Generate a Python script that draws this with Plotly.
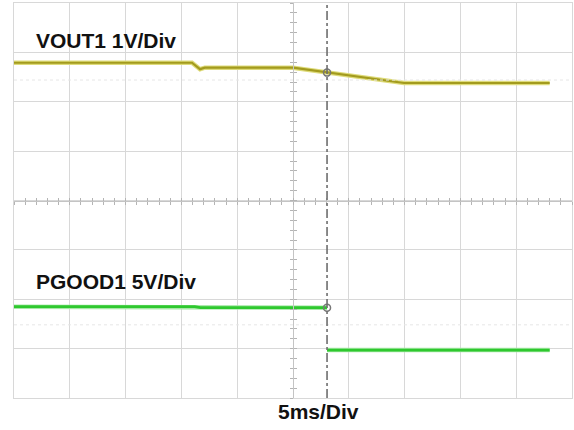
import plotly.graph_objects as go

# Time axis: 5 ms/div, 10 divisions
t_vout = [0, 15.95, 16.67, 17.1, 25.0, 34.95, 48.0]
v_vout = [4.79, 4.79, 4.66, 4.69, 4.69, 4.38, 4.38]      # VOUT1, volts (1 V/div)

t_pgood = [0, 16.2, 16.7, 28.05, None, 28.05, 48.0]
v_pgood = [4.4, 4.4, 4.3, 4.3, None, 0.0, 0.0]           # PGOOD1, volts (5 V/div)

cursor_t = 28.05
label_vout = "VOUT1 1V/Div"
label_pgood = "PGOOD1 5V/Div"
label_time = "5ms/Div"

GRID = "#d8d8d8"
FONT = "Arial, Liberation Sans, sans-serif"

fig = go.Figure()

# VOUT1 trace (glow + core)
fig.add_trace(go.Scatter(x=t_vout, y=v_vout, mode="lines", yaxis="y",
                         line=dict(color="#dedb7a", width=4.5), hoverinfo="skip", showlegend=False))
fig.add_trace(go.Scatter(x=t_vout, y=v_vout, mode="lines", yaxis="y",
                         line=dict(color="#a39b1e", width=2.2), showlegend=False))
# PGOOD1 trace
fig.add_trace(go.Scatter(x=t_pgood, y=v_pgood, mode="lines", yaxis="y2", connectgaps=False,
                         line=dict(color="#a6e8a6", width=4.5), hoverinfo="skip", showlegend=False))
fig.add_trace(go.Scatter(x=t_pgood, y=v_pgood, mode="lines", yaxis="y2", connectgaps=False,
                         line=dict(color="#2ec82e", width=2.6), showlegend=False))

# cursor crossing markers
fig.add_trace(go.Scatter(x=[cursor_t], y=[4.59], mode="markers", yaxis="y",
                         marker=dict(symbol="circle-open", size=7, color="#777777", line=dict(width=1.5)),
                         showlegend=False))
fig.add_trace(go.Scatter(x=[cursor_t], y=[4.3], mode="markers", yaxis="y2",
                         marker=dict(symbol="circle-open", size=7, color="#777777", line=dict(width=1.5)),
                         showlegend=False))

center_tick = dict(showgrid=False, zeroline=False, showticklabels=False,
                   showline=True, linecolor="#c4c4c4", linewidth=1,
                   tickcolor="#b4b4b4", ticklen=3, tickwidth=1)

fig.update_layout(
    width=574, height=430,
    margin=dict(l=14, r=2, t=3, b=32, autoexpand=False),
    paper_bgcolor="white", plot_bgcolor="white",
    showlegend=False,
    xaxis=dict(range=[0, 50], dtick=5, showgrid=True, gridcolor=GRID, gridwidth=1,
               zeroline=False, showticklabels=False, ticks="",
               showline=True, mirror=True, linecolor=GRID, linewidth=1),
    yaxis=dict(range=[-2, 6], dtick=1, showgrid=True, gridcolor=GRID, gridwidth=1,
               zeroline=False, showticklabels=False, ticks="",
               showline=True, mirror=True, linecolor=GRID, linewidth=1),
    yaxis2=dict(range=[-4.85, 35.15], overlaying="y", visible=False),
    # center graticule lines with minor tick marks
    xaxis2=dict(range=[0, 50], overlaying="x", anchor="free", position=0.5, dtick=1,
                ticks="outside", **center_tick),
    xaxis3=dict(range=[0, 50], overlaying="x", anchor="free", position=0.5, dtick=1,
                ticks="inside", **center_tick),
    yaxis3=dict(range=[-2, 6], overlaying="y", anchor="free", position=0.5, dtick=0.2,
                ticks="outside", **center_tick),
    yaxis4=dict(range=[-2, 6], overlaying="y", anchor="free", position=0.5, dtick=0.2,
                ticks="inside", **center_tick),
)

# dummy traces to render center axes
fig.add_trace(go.Scatter(x=[None], y=[None], xaxis="x2", yaxis="y3", showlegend=False))
fig.add_trace(go.Scatter(x=[None], y=[None], xaxis="x3", yaxis="y4", showlegend=False))

# faint reference dotted lines
fig.add_shape(type="line", xref="paper", x0=0, x1=1, yref="y", y0=4.44, y1=4.44,
              line=dict(color="#e6e6e6", width=1, dash="dot"))
fig.add_shape(type="line", xref="paper", x0=0, x1=1, yref="y2", y0=2.56, y1=2.56,
              line=dict(color="#e6e6e6", width=1, dash="dot"))

# trigger cursor
fig.add_shape(type="line", xref="x", x0=cursor_t, x1=cursor_t, yref="paper", y0=0, y1=1,
              line=dict(color="#6e6e6e", width=1.6, dash="dashdot"))

fig.add_annotation(text=f"<b>{label_vout}</b>", xref="paper", yref="paper", x=0.036, y=0.904,
                   xanchor="left", yanchor="middle", showarrow=False,
                   font=dict(family=FONT, size=21, color="#111111"))
fig.add_annotation(text=f"<b>{label_pgood}</b>", xref="paper", yref="paper", x=0.036, y=0.296,
                   xanchor="left", yanchor="middle", showarrow=False,
                   font=dict(family=FONT, size=21, color="#111111"))
fig.add_annotation(text=f"<b>{label_time}</b>", xref="paper", yref="paper", x=0.546, y=-0.035,
                   xanchor="center", yanchor="middle", showarrow=False,
                   font=dict(family=FONT, size=21, color="#111111"))

fig.write_html("out.html", config={"displayModeBar": False},
               post_script="document.body.style.margin='0';")
